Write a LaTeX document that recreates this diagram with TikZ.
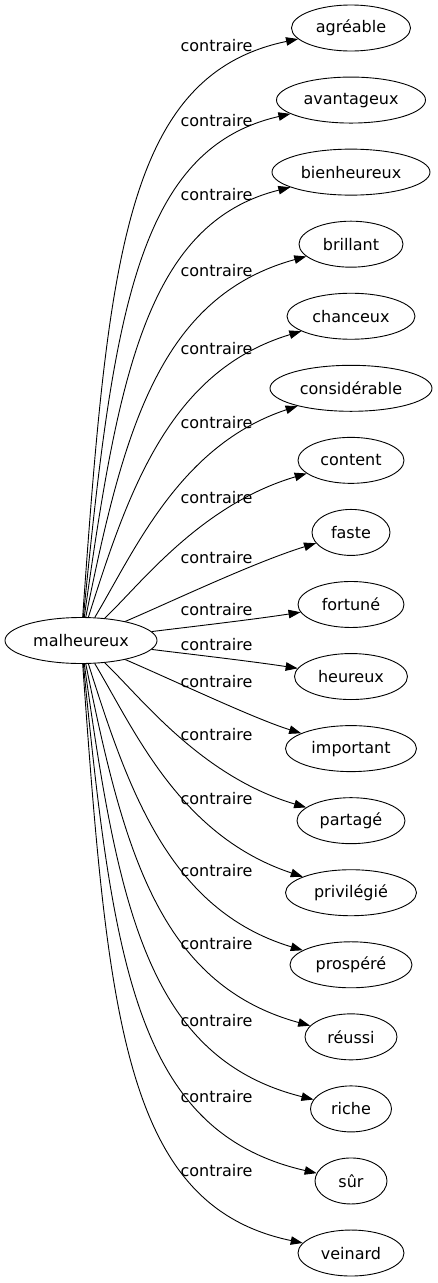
\documentclass[tikz,border=0pt]{standalone}
\usepackage{fontspec}
\setmainfont{DejaVu Sans}
\usetikzlibrary{shapes.geometric,arrows.meta}
\tikzstyle{wd}=[shape=ellipse, draw, inner sep=0, minimum height=46pt, line width=.9pt]
\tikzstyle{lbl}=[inner sep=0]
\tikzstyle{rel}=[-{Triangle[length=12pt,width=8.5pt]}, line width=.9pt]

\begin{document}
\begin{tikzpicture}[x=1pt,y=-1pt,font=\fontsize{16}{19}\selectfont]
\useasboundingbox (0,0) rectangle (437,1283);
\node[wd, minimum width=152] (m) at (81,640.5) {malheureux};
\foreach \n/\txt/\w [count=\i from 0] in {agreable/agréable/119, avantageux/avantageux/149, bienheureux/bienheureux/158, brillant/brillant/104, chanceux/chanceux/128, considerable/considérable/162, content/content/106, faste/faste/78, fortune/fortuné/106, heureux/heureux/113, important/important/131, partage/partagé/108, privilegie/privilégié/131, prospere/prospéré/122, reussi/réussi/92, riche/riche/81, sur/sûr/72, veinard/veinard/106}
  {\node[wd, minimum width=\w] (\n) at (351,{28+72.06*\i}) {\txt};}
%labels
\foreach \y [count=\i from 0] in {46,121,195,271,349,423,498,558,610,645,682,735,799,871,944,1021,1097,1171}
  {\node[lbl] (l\i) at (216.5,\y) {contraire};}
\foreach \n/\ax/\ay/\bx/\by in {agreable/108/260/125/75, avantageux/113/318/136/149, bienheureux/118/376/147/223, brillant/123/434/158/297, chanceux/128/492/169/371, considerable/135/550/180/445, content/140/585/200/505, faste/175/600/255/562, fortune/180/628/250/620, heureux/180/653/250/661, important/175/681/255/719, partage/140/696/200/776, privilegie/135/731/180/836, prospere/128/789/169/910, reussi/123/847/158/984, riche/118/905/147/1058, sur/113/963/136/1132, veinard/108/1021/125/1206}
  {\draw[rel] (m) .. controls (\ax,\ay) and (\bx,\by) .. (\n);}
\end{tikzpicture}
\end{document}
